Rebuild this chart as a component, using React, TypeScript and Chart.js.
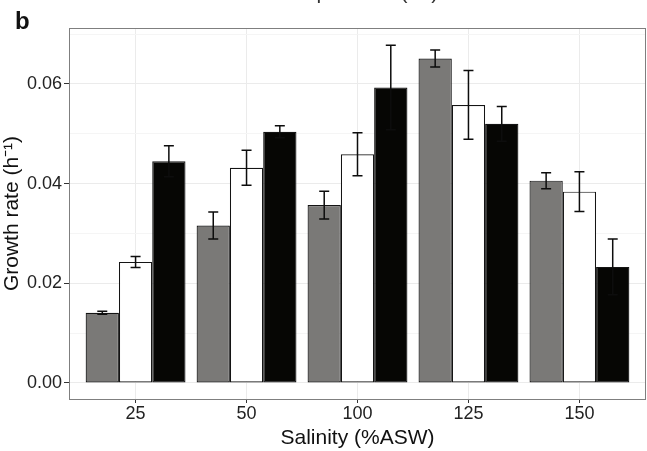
import { useEffect, useRef } from 'react';
import { Chart, registerables } from 'chart.js';

Chart.register(...registerables);

const categories = ['25', '50', '100', '125', '150'];

const grayValues = [0.0141, 0.0316, 0.0357, 0.0651, 0.0406];
const grayErrors = [0.0003, 0.0027, 0.0028, 0.0017, 0.0016];

const whiteValues = [0.0243, 0.0432, 0.0459, 0.0558, 0.0384];
const whiteErrors = [0.0011, 0.0035, 0.0043, 0.0069, 0.004];

const blackValues = [0.0445, 0.0504, 0.0593, 0.052, 0.0233];
const blackErrors = [0.0031, 0.0012, 0.0085, 0.0035, 0.0056];

const yTickValues = [0, 0.01, 0.02, 0.03, 0.04, 0.05, 0.06, 0.07];

const FONT = '"Liberation Sans", Arial, Helvetica, sans-serif';

export default function App() {
  const ref = useRef<HTMLCanvasElement>(null);

  useEffect(() => {
    document.body.style.margin = '0';
    const canvas = ref.current;
    if (!canvas) return;

    const series = [
      { label: 'gray', values: grayValues, errors: grayErrors, fill: '#7a7977' },
      { label: 'white', values: whiteValues, errors: whiteErrors, fill: '#ffffff' },
      { label: 'black', values: blackValues, errors: blackErrors, fill: '#060604' },
    ];

    const errorBars = {
      id: 'errorBars',
      afterDatasetsDraw(chart: any) {
        const ctx = chart.ctx;
        const yScale = chart.scales.y;
        ctx.save();
        ctx.strokeStyle = '#0d0d0d';
        ctx.lineWidth = 1.5;
        series.forEach((s, di) => {
          const meta = chart.getDatasetMeta(di);
          s.values.forEach((v, i) => {
            const bar = meta.data[i];
            if (!bar) return;
            const x = bar.x;
            const yTop = yScale.getPixelForValue(v + s.errors[i]);
            const yBot = yScale.getPixelForValue(v - s.errors[i]);
            const hw = 5;
            ctx.beginPath();
            ctx.moveTo(x, yTop);
            ctx.lineTo(x, yBot);
            ctx.moveTo(x - hw, yTop);
            ctx.lineTo(x + hw, yTop);
            ctx.moveTo(x - hw, yBot);
            ctx.lineTo(x + hw, yBot);
            ctx.stroke();
          });
        });
        ctx.restore();
      },
    };

    const panel = {
      id: 'panel',
      afterDraw(chart: any) {
        const ctx = chart.ctx;
        const a = chart.chartArea;
        ctx.save();
        ctx.strokeStyle = '#7f7f7f';
        ctx.lineWidth = 1;
        ctx.strokeRect(a.left + 0.5, a.top + 0.5, a.right - a.left - 1, a.bottom - a.top);
        ctx.fillStyle = '#111';
        ctx.font = `bold 24px ${FONT}`;
        ctx.textAlign = 'left';
        ctx.textBaseline = 'alphabetic';
        ctx.fillText('b', 15, 29);
        ctx.fillStyle = '#333';
        ctx.font = `21px ${FONT}`;
        ctx.textAlign = 'center';
        ctx.fillText('Temperature (°C)', (a.left + a.right) / 2, -1);
        ctx.restore();
      },
    };

    const chart = new Chart(canvas, {
      type: 'bar',
      data: {
        datasets: series.map((s) => ({
          label: s.label,
          data: s.values.map((v, i) => ({ x: i + 1, y: v })),
          backgroundColor: s.fill,
          borderColor: '#141414',
          borderWidth: 1.2,
          borderSkipped: false,
          categoryPercentage: 0.9,
          barPercentage: 1,
        })),
      },
      options: {
        animation: false,
        responsive: false,
        devicePixelRatio: 1,
        layout: { padding: { top: 28, right: 1, bottom: 0, left: 0 } },
        plugins: { legend: { display: false }, tooltip: { enabled: false } },
        scales: {
          x: {
            type: 'linear',
            min: 0.4,
            max: 5.6,
            offset: false,
            grid: { offset: false, color: '#ebebeb', tickColor: '#333', tickLength: 4, drawTicks: true },
            border: { display: false },
            afterBuildTicks: (s: any) => {
              s.ticks = categories.map((_, i) => ({ value: i + 1 }));
            },
            ticks: {
              autoSkip: false,
              maxRotation: 0,
              padding: 0,
              color: '#222',
              font: { family: FONT, size: 18 },
              callback: (v: any) => categories[Math.round(Number(v)) - 1] ?? '',
            },
            title: {
              display: true,
              text: 'Salinity (%ASW)',
              color: '#111',
              font: { family: FONT, size: 21 },
              padding: 0,
            },
            afterFit: (s: any) => {
              s.height = 52;
            },
          } as any,
          y: {
            type: 'linear',
            min: -0.003211,
            max: 0.071237,
            afterBuildTicks: (s: any) => {
              s.ticks = yTickValues.map((v) => ({ value: v }));
            },
            grid: {
              color: (c: any) => (c.index % 2 === 0 ? '#ebebeb' : '#f5f5f5'),
              tickColor: (c: any) => (c.index % 2 === 0 ? '#333' : 'rgba(0,0,0,0)'),
              tickLength: 5,
            },
            border: { display: false },
            ticks: {
              autoSkip: false,
              padding: 2,
              color: '#222',
              font: { family: FONT, size: 18 },
              callback: (v: any, i: number) => (i % 2 === 0 ? Number(v).toFixed(2) : ''),
            },
            title: {
              display: true,
              text: 'Growth rate (h⁻¹)',
              color: '#111',
              font: { family: FONT, size: 21 },
              padding: 0,
            },
            afterFit: (s: any) => {
              s.width = 69;
            },
          } as any,
        },
      },
      plugins: [errorBars, panel],
    });

    return () => chart.destroy();
  }, []);

  return <canvas ref={ref} width={647} height={451} style={{ display: 'block' }} />;
}
